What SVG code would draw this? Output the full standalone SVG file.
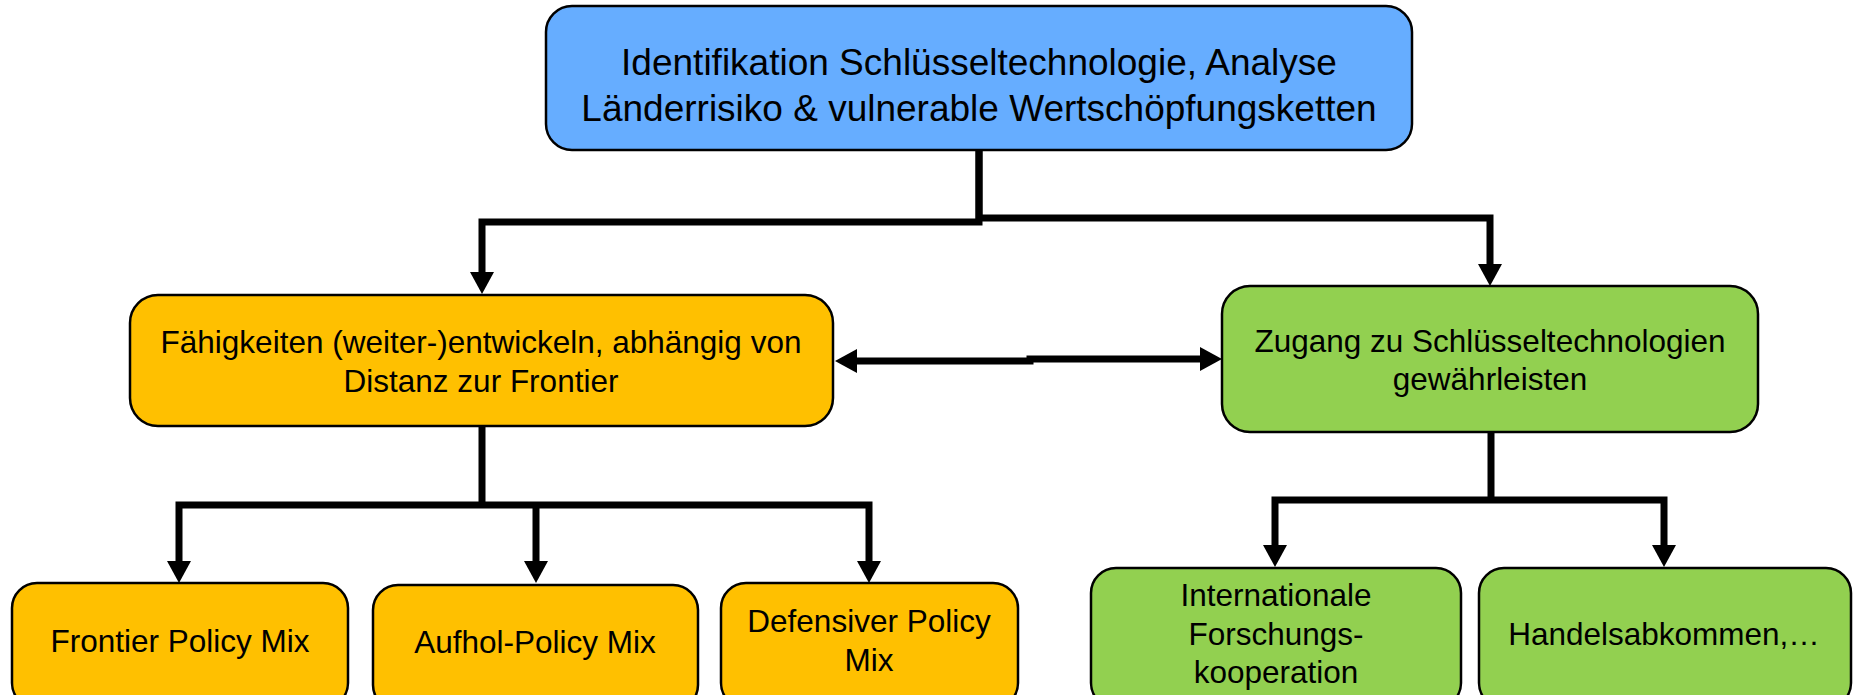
<svg xmlns="http://www.w3.org/2000/svg" width="1856" height="695" viewBox="0 0 1856 695">
<style>
.box{stroke:#000;stroke-width:2.5}
.blue{fill:#66adff}
.orange{fill:#ffc000}
.green{fill:#92d050}
text{font-family:"Liberation Sans",Arial,sans-serif;fill:#000;text-anchor:middle}
.t{font-size:31.5px}
.tt{font-size:37px}
.c{fill:none;stroke:#000;stroke-width:7}
</style>
<defs>
<marker id="ah" markerUnits="userSpaceOnUse" markerWidth="24" markerHeight="24" refX="0" refY="12" orient="auto-start-reverse" overflow="visible">
<path d="M0,0 L22,12 L0,24 z" fill="#000"/>
</marker>
</defs>
<g id="connectors">
<path class="c" d="M979,150 V222 H482 V272" marker-end="url(#ah)"/>
<path class="c" d="M979,150 V218 H1490 V264" marker-end="url(#ah)"/>
<path class="c" d="M857,361 H1030 V359 H1200" marker-start="url(#ah)" marker-end="url(#ah)"/>
<path class="c" d="M482,426 V505"/>
<path class="c" d="M179,561 V505 H869 V561" marker-start="url(#ah)" marker-end="url(#ah)"/>
<path class="c" d="M536,505 V561" marker-end="url(#ah)"/>
<path class="c" d="M1491,432 V500"/>
<path class="c" d="M1275,545 V500 H1664 V545" marker-start="url(#ah)" marker-end="url(#ah)"/>
</g>
<g id="n-top">
<rect class="box blue" x="546" y="6" width="866" height="144" rx="26"/>
<text class="tt" x="979" y="75">Identifikation Schlüsseltechnologie, Analyse</text>
<text class="tt" x="979" y="121">Länderrisiko &amp; vulnerable Wertschöpfungsketten</text>
</g>
<g id="n-faehigkeiten">
<rect class="box orange" x="130" y="295" width="703" height="131" rx="28"/>
<text class="t" x="481" y="353">Fähigkeiten (weiter-)entwickeln, abhängig von</text>
<text class="t" x="481" y="392">Distanz zur Frontier</text>
</g>
<g id="n-zugang">
<rect class="box green" x="1222" y="286" width="536" height="146" rx="28"/>
<text class="t" x="1490" y="352">Zugang zu Schlüsseltechnologien</text>
<text class="t" x="1490" y="390">gewährleisten</text>
</g>
<g id="n-frontier">
<rect class="box orange" x="12" y="583" width="336" height="125" rx="25"/>
<text class="t" x="180" y="652">Frontier Policy Mix</text>
</g>
<g id="n-aufhol">
<rect class="box orange" x="373" y="585" width="325" height="125" rx="25"/>
<text class="t" x="535" y="653">Aufhol-Policy Mix</text>
</g>
<g id="n-defensiv">
<rect class="box orange" x="721" y="583" width="297" height="125" rx="25"/>
<text class="t" x="869" y="632">Defensiver Policy</text>
<text class="t" x="869" y="671">Mix</text>
</g>
<g id="n-forschung">
<rect class="box green" x="1091" y="568" width="370" height="140" rx="25"/>
<text class="t" x="1276" y="606">Internationale</text>
<text class="t" x="1276" y="645">Forschungs-</text>
<text class="t" x="1276" y="683">kooperation</text>
</g>
<g id="n-handel">
<rect class="box green" x="1479" y="568" width="372" height="140" rx="25"/>
<text class="t" x="1664" y="645">Handelsabkommen,…</text>
</g>
</svg>
